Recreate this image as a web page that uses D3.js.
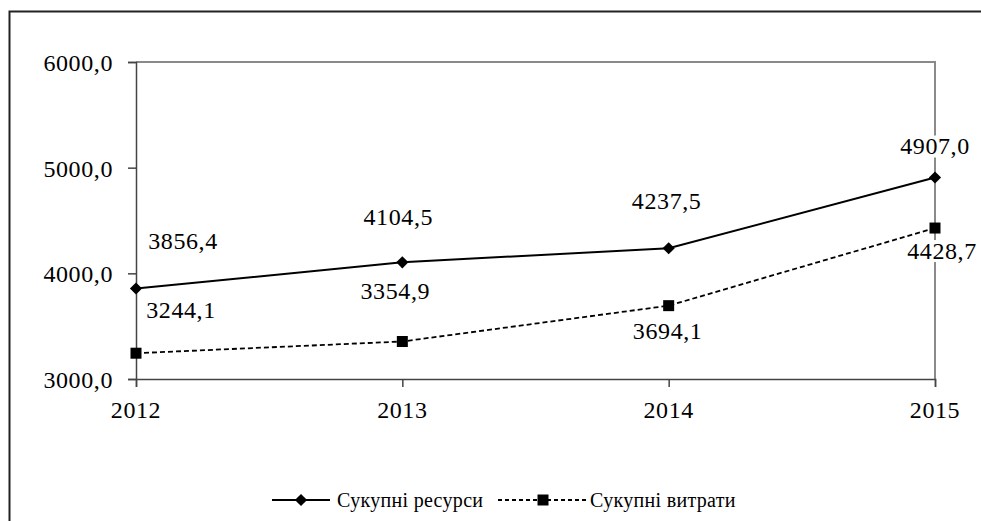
<!DOCTYPE html>
<html>
<head>
<meta charset="utf-8">
<script src="https://cdn.jsdelivr.net/npm/d3@7"></script>
</head>
<body style="margin:0; background:#fff">
<svg id="chart" width="981" height="521"></svg>
<script>
// data
let years = ['2012', '2013', '2014', '2015']
let resources = [3856.4, 4104.5, 4237.5, 4907.0]
let expenses = [3244.1, 3354.9, 3694.1, 4428.7]
let yTicks = [3000, 4000, 5000, 6000]
let seriesNames = ['Сукупні ресурси', 'Сукупні витрати']

// manual label placement (offset from point, like dragged excel labels)
let resLabelOffset = [[47, -48], [-4, -45], [-2, -47], [0, -31]]
let expLabelOffset = [[45, -43], [-7, -50], [-1, 25], [7, 23]]

let svg = d3.select('#chart')
let fmt = d => d.toFixed(1).replace('.', ',')
let fontSize = 24
let serif = '"Liberation Serif"'

// all text goes through here
let addText = function (sel, size, spacing) {
    return sel.append('text')
        .attr('font-size', size || fontSize)
        .attr('letter-spacing', spacing == null ? 0.6 : spacing)
        .attr('fill', '#000')
        .style('font-family', serif)
}

// outer frame (runs off the picture at right/bottom)
svg.append('rect')
    .attr('x', 9.5).attr('y', 11.5)
    .attr('width', 1100).attr('height', 700)
    .attr('fill', 'none')
    .attr('stroke', '#222')
    .attr('stroke-width', 2)

let x = d3.scalePoint()
    .domain(years)
    .range([136, 935])

let y = d3.scaleLinear()
    .domain([3000, 6000])
    .range([379, 62])

// plot area border top / right (gray)
svg.append('path')
    .attr('d', `M${x('2012')},${y(6000)}H${x('2015')}V${y(3000)}`)
    .attr('fill', 'none')
    .attr('stroke', '#8a8a8a')
    .attr('stroke-width', 2)

// y axis
let yAxis = svg.append('g')
    .attr('transform', `translate(${x('2012')},0)`)
    .call(d3.axisLeft(y).tickValues(yTicks).tickSize(8).tickFormat(''))
yAxis.selectAll('path, line').attr('stroke', '#444').attr('stroke-width', 1.5)

yTicks.forEach(t => {
    addText(svg)
        .attr('x', 113)
        .attr('y', y(t) + 9)
        .attr('text-anchor', 'end')
        .text(fmt(t))
})

// x axis
let xAxis = svg.append('g')
    .attr('transform', `translate(0,${y(3000)})`)
    .call(d3.axisBottom(x).tickSize(8).tickFormat(''))
xAxis.selectAll('path, line').attr('stroke', '#444').attr('stroke-width', 1.5)

years.forEach(yr => {
    addText(svg)
        .attr('x', x(yr))
        .attr('y', 418)
        .attr('text-anchor', 'middle')
        .text(yr)
})

// lines
let line = d3.line()
    .x((d, i) => x(years[i]))
    .y(d => y(d))

svg.append('path')
    .datum(expenses)
    .attr('d', line)
    .attr('fill', 'none')
    .attr('stroke', '#000')
    .attr('stroke-width', 1.8)
    .attr('stroke-dasharray', '5,3')

svg.append('path')
    .datum(resources)
    .attr('d', line)
    .attr('fill', 'none')
    .attr('stroke', '#000')
    .attr('stroke-width', 2)

let diamond = d3.symbol().type(d3.symbolDiamond2).size(95)
let square = d3.symbol().type(d3.symbolSquare).size(121)

svg.selectAll('.resPt')
    .data(resources)
    .enter()
    .append('path')
    .attr('class', 'resPt')
    .attr('d', diamond)
    .attr('transform', (d, i) => `translate(${x(years[i])},${y(d)})`)
    .attr('fill', '#000')

svg.selectAll('.expPt')
    .data(expenses)
    .enter()
    .append('path')
    .attr('class', 'expPt')
    .attr('d', square)
    .attr('transform', (d, i) => `translate(${x(years[i])},${y(d)})`)
    .attr('fill', '#000')

// data labels with white box
let drawLabels = function (values, offsets) {
    values.forEach((v, i) => {
        let cx = x(years[i]) + offsets[i][0]
        let cy = y(v) + offsets[i][1]
        svg.append('rect')
            .attr('x', cx - 37).attr('y', cy - 11)
            .attr('width', 74).attr('height', 22)
            .attr('fill', '#fff')
        addText(svg)
            .attr('x', cx)
            .attr('y', cy + 8)
            .attr('text-anchor', 'middle')
            .text(fmt(v))
    })
}
drawLabels(resources, resLabelOffset)
drawLabels(expenses, expLabelOffset)

// legend
let legendY = 500
svg.append('line')
    .attr('x1', 272).attr('x2', 330)
    .attr('y1', legendY).attr('y2', legendY)
    .attr('stroke', '#000').attr('stroke-width', 2)
svg.append('path')
    .attr('d', diamond)
    .attr('transform', `translate(301,${legendY})`)
addText(svg, 20, 0.3)
    .attr('x', 337)
    .attr('y', legendY + 7)
    .text(seriesNames[0])

svg.append('line')
    .attr('x1', 498).attr('x2', 587)
    .attr('y1', legendY).attr('y2', legendY)
    .attr('stroke', '#000').attr('stroke-width', 1.8)
    .attr('stroke-dasharray', '4,3')
svg.append('path')
    .attr('d', square)
    .attr('transform', `translate(543,${legendY})`)
addText(svg, 20, 0.3)
    .attr('x', 590)
    .attr('y', legendY + 7)
    .text(seriesNames[1])
</script>
</body>
</html>
